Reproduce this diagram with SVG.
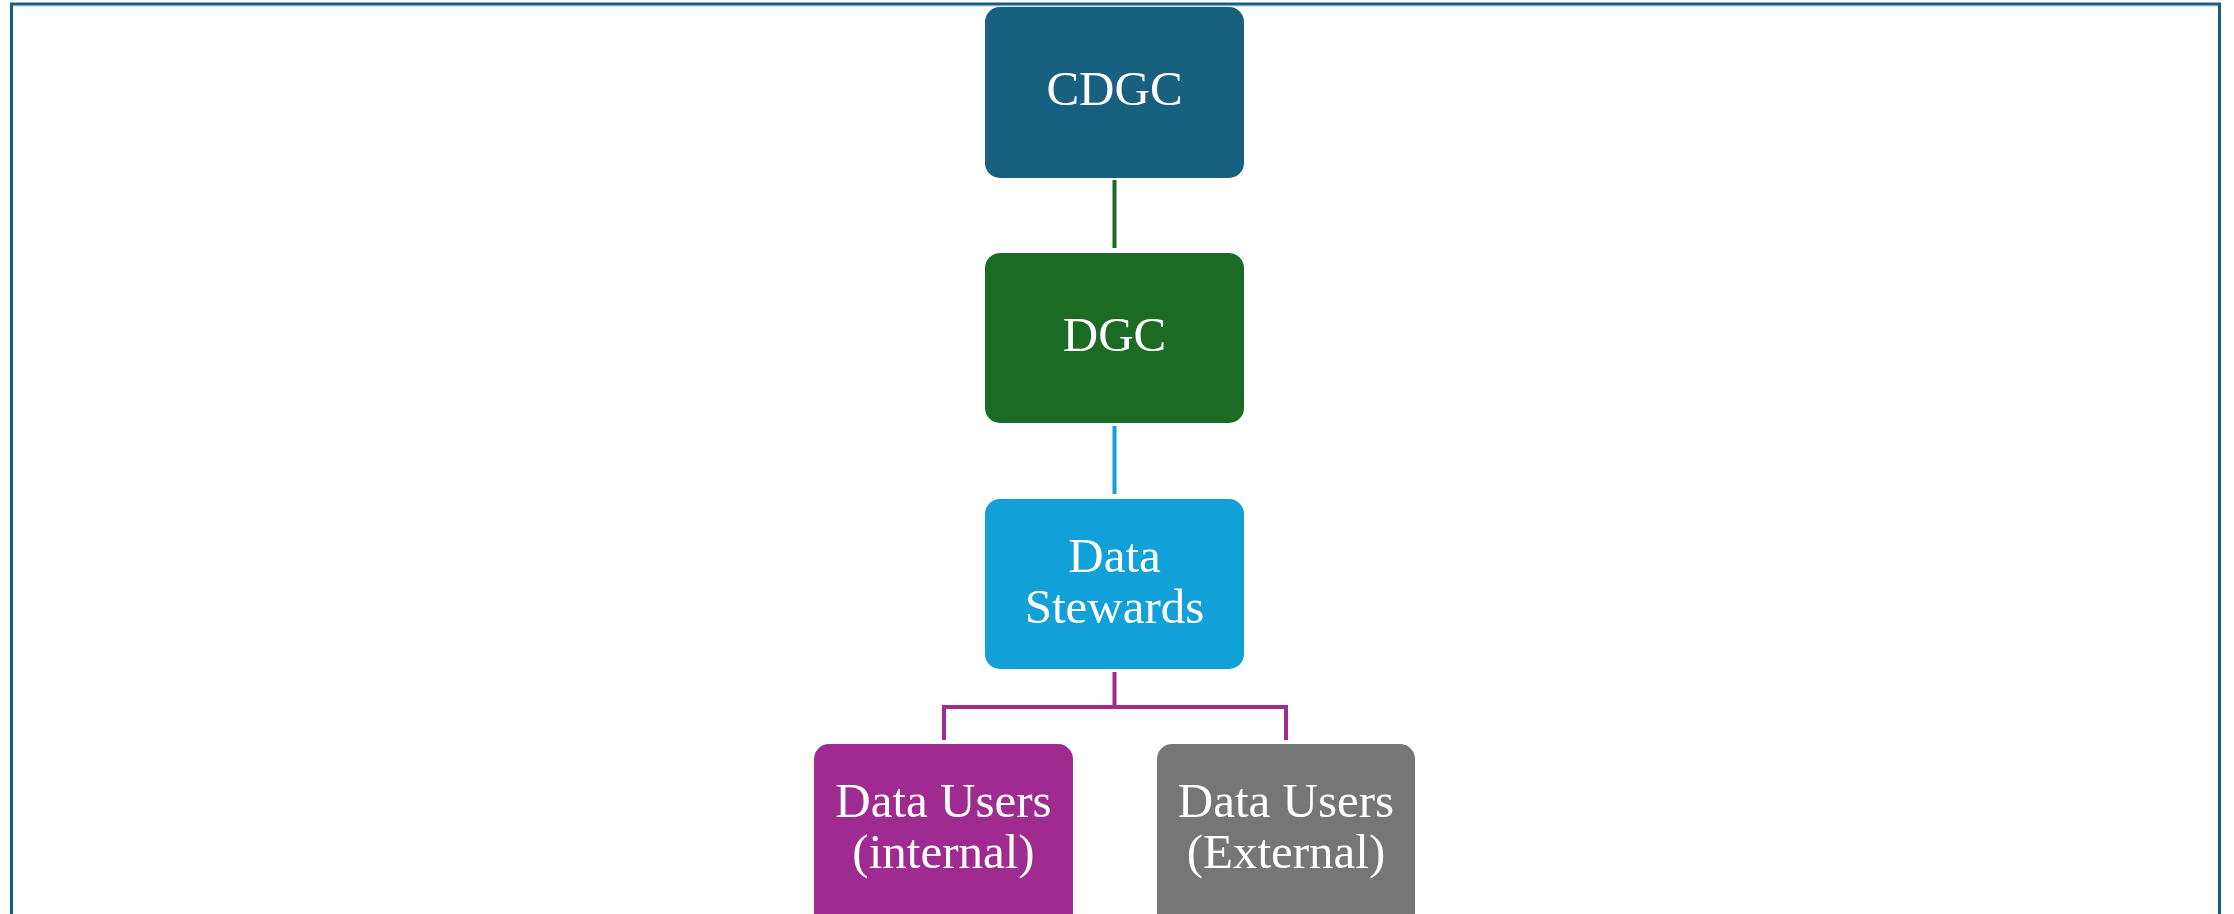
<svg xmlns="http://www.w3.org/2000/svg" width="2234" height="914" viewBox="0 0 2234 914">
<style>
.lbl{font-family:"Liberation Serif","Times New Roman",serif;font-size:49px;fill:#ffffff;text-anchor:middle}
.frame{fill:none;stroke:#17607F;stroke-width:3}
.conn{fill:none;stroke-width:4}
</style>
<rect width="2234" height="914" fill="#ffffff"/>
<path class="frame" d="M11.5,914 V4 H2219.5 V914"/>
<line x1="13" y1="5.8" x2="2218" y2="5.8" stroke="#7FA9C4" stroke-width="1"/>
<g id="connectors">
<line class="conn" stroke="#1B6B25" x1="1114.5" y1="180" x2="1114.5" y2="248"/>
<line class="conn" stroke="#11A0D7" x1="1114.5" y1="426" x2="1114.5" y2="494"/>
<path class="conn" stroke="#A02B90" d="M1114.5,672 V707 M944,740 V707 H1286 V740"/>
</g>
<g id="cdgc">
<rect x="985" y="7" width="259" height="171" rx="15" fill="#17607F"/>
<text class="lbl" x="1114.5" y="105">CDGC</text>
</g>
<g id="dgc">
<rect x="985" y="253" width="259" height="170" rx="15" fill="#1B6B25"/>
<text class="lbl" x="1114.5" y="351">DGC</text>
</g>
<g id="data-stewards">
<rect x="985" y="499" width="259" height="170" rx="15" fill="#11A0D7"/>
<text class="lbl" x="1114.5" y="572">Data</text>
<text class="lbl" x="1114.5" y="623">Stewards</text>
</g>
<g id="data-users-internal">
<rect x="814" y="744" width="259" height="190" rx="15" fill="#A02B90"/>
<text class="lbl" x="943.5" y="817">Data Users</text>
<text class="lbl" x="943.5" y="868">(internal)</text>
</g>
<g id="data-users-external">
<rect x="1157" y="744" width="258" height="190" rx="15" fill="#767676"/>
<text class="lbl" x="1286" y="817">Data Users</text>
<text class="lbl" x="1286" y="868">(External)</text>
</g>
</svg>
